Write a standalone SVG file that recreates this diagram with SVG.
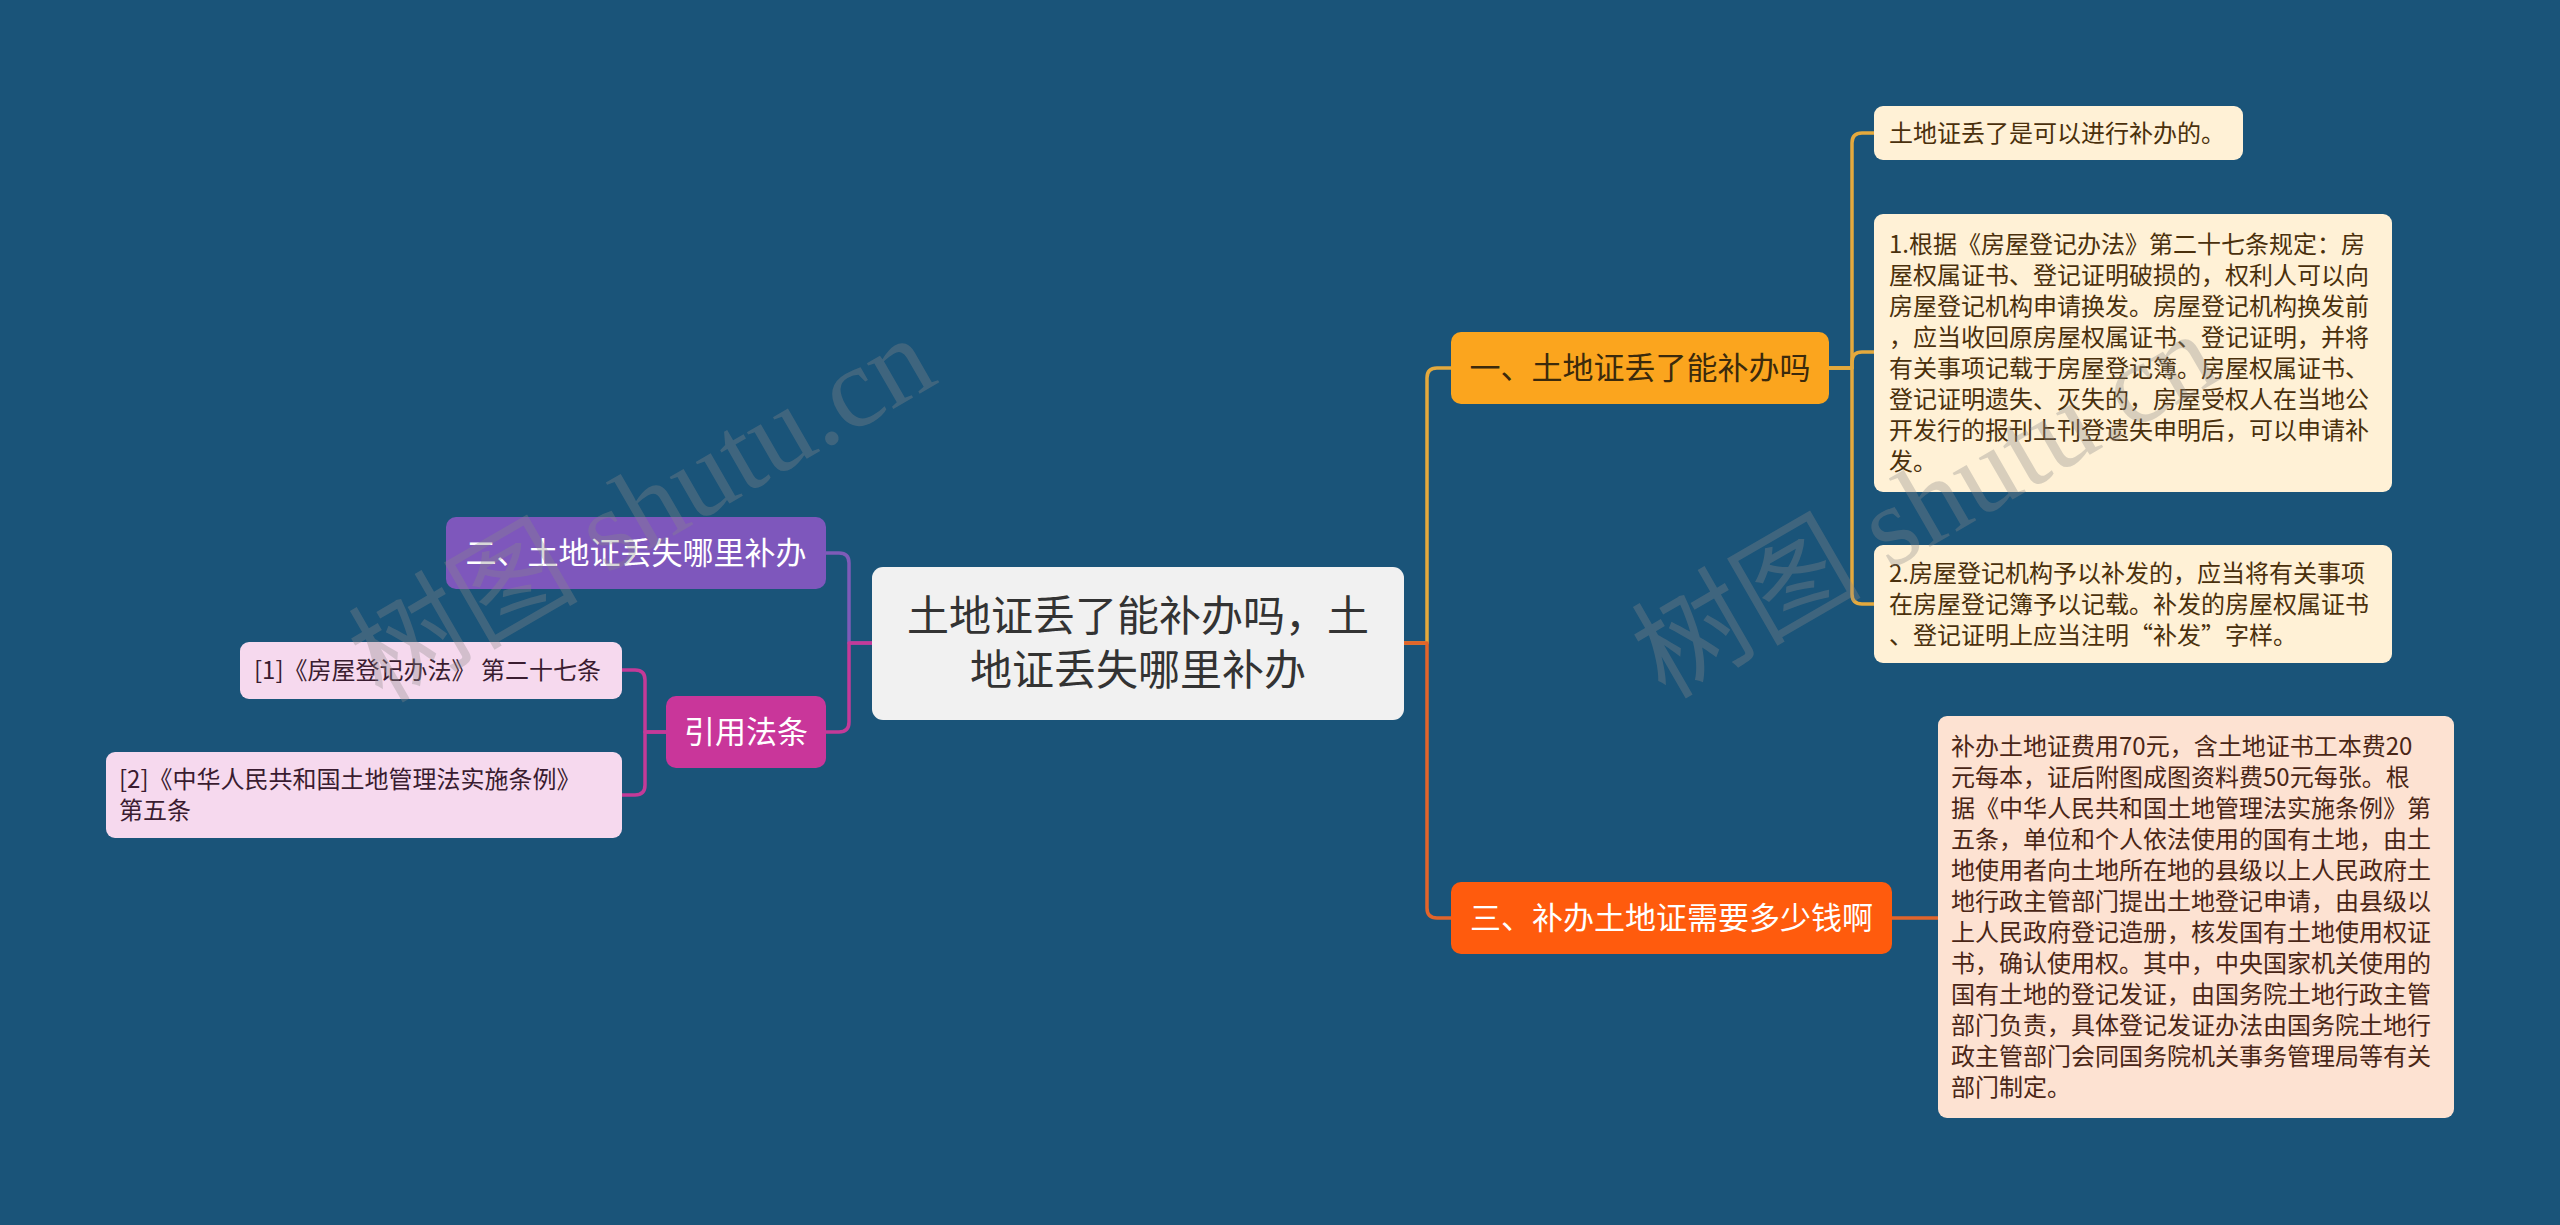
<svg xmlns="http://www.w3.org/2000/svg" width="2560" height="1225" viewBox="0 0 2560 1225">
<style>
text{font-family:"Noto Sans CJK SC","Noto Sans",sans-serif;}
.ln{fill:none;stroke-width:3.5;stroke-linecap:round;stroke-linejoin:round;}
.y{stroke:#E4A93D;}
.o{stroke:#E2642A;}
.p{stroke:#7E5BB8;}
.m{stroke:#C43A98;}
.leaf{font-size:24px;}
.l1{font-size:31px;text-anchor:middle;}
.wm{font-family:"Liberation Serif","Noto Sans CJK SC",serif;font-size:115px;fill:#8a8a8a;opacity:0.33;}
</style>
<rect x="0" y="0" width="2560" height="1225" fill="#1A5479"/>
<g id="connectors">
<path class="ln y" d="M1404,643 H1427 V378 Q1427,368 1437,368 H1451"/>
<path class="ln o" d="M1404,643 H1427 V908 Q1427,918 1437,918 H1451"/>
<path class="ln y" d="M1829,368 H1852 V143 Q1852,133 1862,133 H1874"/>
<path class="ln y" d="M1829,368 H1852 V362 Q1852,352 1862,352 H1874"/>
<path class="ln y" d="M1829,368 H1852 V594 Q1852,604 1862,604 H1874"/>
<path class="ln o" d="M1892,918 H1938"/>
<path class="ln p" d="M872,643 H849 V563 Q849,553 839,553 H826"/>
<path class="ln m" d="M872,643 H849 V722 Q849,732 839,732 H826"/>
<path class="ln m" d="M666,732 H645 V680 Q645,670 635,670 H622"/>
<path class="ln m" d="M666,732 H645 V785 Q645,795 635,795 H622"/>
</g>
<g id="root">
<rect x="872" y="567" width="532" height="153" rx="11" fill="#F1F1F1"/>
<text x="1138" y="631" font-size="42" text-anchor="middle" fill="#333333">土地证丢了能补办吗，土</text>
<text x="1138" y="685" font-size="42" text-anchor="middle" fill="#333333">地证丢失哪里补办</text>
</g>
<g id="n1">
<rect x="1451" y="332" width="378" height="72" rx="10" fill="#FBA51E"/>
<text class="l1" x="1640" y="379" fill="#3B2A0C">一、土地证丢了能补办吗</text>
</g>
<g id="n3">
<rect x="1451" y="882" width="441" height="72" rx="10" fill="#FF5B0D"/>
<text class="l1" x="1671.5" y="929" fill="#FFFFFF">三、补办土地证需要多少钱啊</text>
</g>
<g id="n2">
<rect x="446" y="517" width="380" height="72" rx="10" fill="#7E57BC"/>
<text class="l1" x="636" y="564" fill="#FFFFFF">二、土地证丢失哪里补办</text>
</g>
<g id="ref">
<rect x="666" y="696" width="160" height="72" rx="10" fill="#C9369A"/>
<text class="l1" x="746" y="743" fill="#FFFFFF">引用法条</text>
</g>
<g id="ref1">
<rect x="240" y="642" width="382" height="57" rx="9" fill="#F6D9EE"/>
<text class="leaf" x="254" y="679" fill="#3A1C30">[1]《房屋登记办法》 第二十七条</text>
</g>
<g id="ref2">
<rect x="106" y="752" width="516" height="86" rx="9" fill="#F6D9EE"/>
<text class="leaf" x="119" y="788" fill="#3A1C30">[2]《中华人民共和国土地管理法实施条例》</text>
<text class="leaf" x="119" y="819" fill="#3A1C30">第五条</text>
</g>
<g id="leafA">
<rect x="1874" y="106" width="369" height="54" rx="9" fill="#FFF1D6"/>
<text class="leaf" x="1889" y="141.6" fill="#4A300C">土地证丢了是可以进行补办的。</text>
</g>
<g id="leafB" class="leaf" fill="#4A300C">
<rect x="1874" y="214" width="518" height="278" rx="9" fill="#FFF1D6"/>
<text x="1889" y="253">1.根据《房屋登记办法》第二十七条规定：房</text>
<text x="1889" y="284">屋权属证书、登记证明破损的，权利人可以向</text>
<text x="1889" y="315">房屋登记机构申请换发。房屋登记机构换发前</text>
<text x="1889" y="346">，应当收回原房屋权属证书、登记证明，并将</text>
<text x="1889" y="377">有关事项记载于房屋登记簿。房屋权属证书、</text>
<text x="1889" y="408">登记证明遗失、灭失的，房屋受权人在当地公</text>
<text x="1889" y="439">开发行的报刊上刊登遗失申明后，可以申请补</text>
<text x="1889" y="470">发。</text>
</g>
<g id="leafC" class="leaf" fill="#4A300C">
<rect x="1874" y="545" width="518" height="118" rx="9" fill="#FFF1D6"/>
<text x="1889" y="581.6">2.房屋登记机构予以补发的，应当将有关事项</text>
<text x="1889" y="612.6">在房屋登记簿予以记载。补发的房屋权属证书</text>
<text x="1889" y="643.6">、登记证明上应当注明“补发”字样。</text>
</g>
<g id="leafD" class="leaf" fill="#4A2616">
<rect x="1938" y="716" width="516" height="402" rx="9" fill="#FDE2D2"/>
<text x="1951" y="755">补办土地证费用70元，含土地证书工本费20</text>
<text x="1951" y="786">元每本，证后附图成图资料费50元每张。根</text>
<text x="1951" y="817">据《中华人民共和国土地管理法实施条例》第</text>
<text x="1951" y="848">五条，单位和个人依法使用的国有土地，由土</text>
<text x="1951" y="879">地使用者向土地所在地的县级以上人民政府土</text>
<text x="1951" y="910">地行政主管部门提出土地登记申请，由县级以</text>
<text x="1951" y="941">上人民政府登记造册，核发国有土地使用权证</text>
<text x="1951" y="972">书，确认使用权。其中，中央国家机关使用的</text>
<text x="1951" y="1003">国有土地的登记发证，由国务院土地行政主管</text>
<text x="1951" y="1034">部门负责，具体登记发证办法由国务院土地行</text>
<text x="1951" y="1065">政主管部门会同国务院机关事务管理局等有关</text>
<text x="1951" y="1096">部门制定。</text>
</g>
<g id="watermarks">
<text class="wm" transform="translate(382,704) rotate(-30)">树图 shutu.cn</text>
<text class="wm" transform="translate(1665,700) rotate(-30)">树图 shutu.cn</text>
</g>
</svg>
